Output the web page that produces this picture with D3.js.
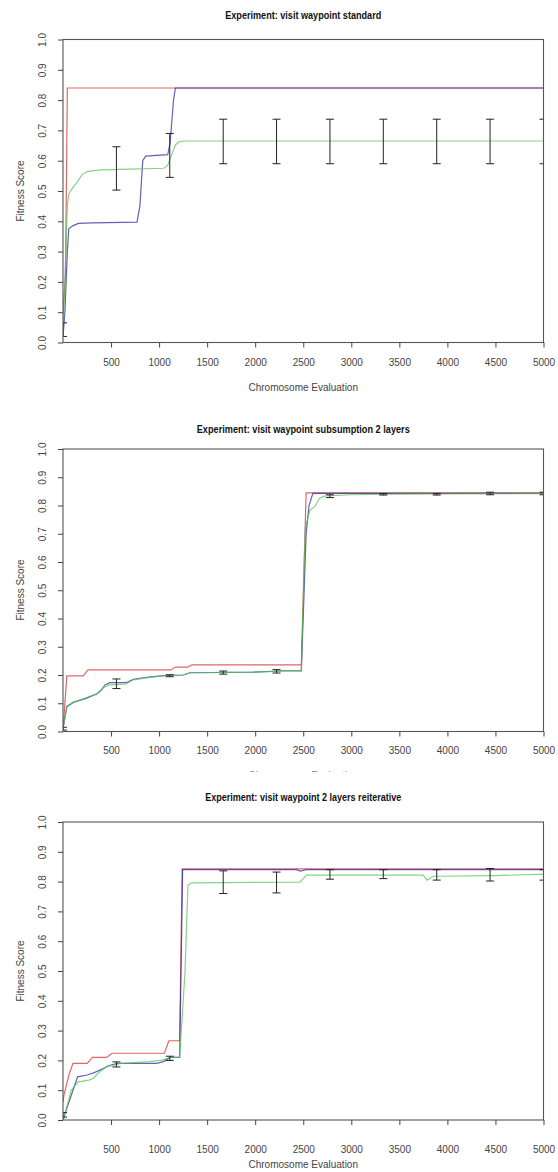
<!DOCTYPE html>
<html><head><meta charset="utf-8">
<script src="https://cdn.jsdelivr.net/npm/d3@7"></script>
<style>
body{margin:0;background:#fff}
svg{display:block}
text{font-family:"Liberation Sans",Arial,sans-serif}
</style>
</head><body>
<svg id="chart" width="558" height="1172"></svg>
<script>
// ---------- data ----------
const xTickValues = [500,1000,1500,2000,2500,3000,3500,4000,4500,5000];
const yTickValues = [0,0.1,0.2,0.3,0.4,0.5,0.6,0.7,0.8,0.9,1.0];
const titles = [
  "Experiment: visit waypoint standard",
  "Experiment: visit waypoint subsumption 2 layers",
  "Experiment: visit waypoint 2 layers reiterative"
];
const xAxisTitle = "Chromosome Evaluation";
const yAxisTitle = "Fitness Score";
const errorX = [0,556,1111,1667,2222,2778,3333,3889,4444,5000];

// panel 1 : standard
const p1Red = [[0,0.10],[25,0.22],[35,0.5],[45,0.84],[5000,0.84]];
const p1Blue = [[0,0.02],[20,0.10],[45,0.30],[60,0.375],[100,0.385],[160,0.393],[300,0.395],[770,0.397],[800,0.45],[830,0.60],[860,0.615],[1090,0.62],[1115,0.66],[1150,0.80],[1170,0.84],[5000,0.84]];
const p1Green = [[0,0.03],[20,0.20],[45,0.45],[60,0.49],[100,0.51],[150,0.53],[200,0.555],[260,0.565],[400,0.57],[700,0.572],[1050,0.575],[1090,0.585],[1130,0.62],[1170,0.652],[1210,0.663],[1270,0.665],[5000,0.665]];
const p1ErrLo = [0.02,0.503,0.545,0.59,0.59,0.59,0.59,0.59,0.59,0.59];
const p1ErrHi = [0.065,0.646,0.69,0.737,0.737,0.737,0.737,0.737,0.737,0.737];

// panel 2 : subsumption 2 layers
const p2Red = [[0,0.005],[40,0.197],[210,0.197],[260,0.218],[1120,0.218],[1170,0.228],[1300,0.228],[1340,0.236],[2480,0.236],[2530,0.845],[5000,0.845]];
const p2Blue = [[0,0.01],[40,0.088],[107,0.103],[246,0.118],[350,0.133],[400,0.147],[437,0.165],[489,0.173],[662,0.173],[731,0.185],[870,0.192],[1043,0.198],[1251,0.2],[1321,0.208],[1980,0.21],[2290,0.215],[2480,0.215],[2530,0.70],[2560,0.80],[2600,0.843],[5000,0.843]];
const p2Green = [[0,0.01],[40,0.09],[107,0.103],[246,0.12],[350,0.133],[420,0.155],[480,0.165],[650,0.168],[731,0.183],[870,0.19],[1043,0.197],[1251,0.2],[1321,0.208],[1980,0.21],[2290,0.214],[2480,0.214],[2520,0.72],[2570,0.784],[2620,0.796],[2670,0.826],[2730,0.834],[3000,0.838],[3500,0.84],[5000,0.842]];
const p2ErrLo = [0.005,0.152,0.194,0.203,0.207,0.828,0.837,0.837,0.838,0.838];
const p2ErrHi = [0.015,0.186,0.201,0.214,0.219,0.838,0.842,0.842,0.847,0.847];

// panel 3 : 2 layers reiterative
const p3Red = [[0,0.06],[10,0.084],[67,0.157],[104,0.19],[252,0.19],[307,0.21],[455,0.21],[510,0.224],[1055,0.224],[1102,0.266],[1214,0.266],[1240,0.843],[5000,0.843]];
const p3Blue = [[0,0.005],[10,0.011],[152,0.145],[252,0.151],[326,0.159],[418,0.173],[473,0.182],[566,0.19],[973,0.19],[1047,0.196],[1114,0.21],[1214,0.21],[1245,0.84],[2430,0.84],[2470,0.835],[2530,0.84],[5000,0.84]];
const p3Green = [[0,0],[10,0.005],[85,0.1],[159,0.128],[270,0.134],[314,0.14],[381,0.162],[455,0.179],[603,0.19],[900,0.196],[1030,0.201],[1121,0.21],[1214,0.21],[1270,0.5],[1300,0.788],[1340,0.796],[2465,0.798],[2534,0.822],[3747,0.822],[3789,0.805],[3851,0.818],[4500,0.82],[5000,0.825]];
const p3ErrLo = [0.01,0.178,0.2,0.76,0.762,0.808,0.81,0.805,0.802,0.805];
const p3ErrHi = [0.025,0.195,0.214,0.836,0.832,0.84,0.84,0.84,0.844,0.84];

// ---------- layout / style ----------
const colors = {red:"#dd5f5f", blue:"#25259a", green:"#55c455", err:"#222"};
const layouts = [
  {top:39.5, bottom:342.5, titleY:15, titleLen:156, tickY:362, xTitleY:387, yTitleY:191, clipTitle:null},
  {top:449, bottom:731.5, titleY:429, titleLen:213, tickY:750, xTitleY:775, yTitleY:590, clipTitle:[760,772]},
  {top:822, bottom:1120, titleY:797, titleLen:196, tickY:1149, xTitleY:1164, yTitleY:971, clipTitle:null}
];
const left = 63, right = 543.5;

const panels = [
  {title:titles[0], red:p1Red, blue:p1Blue, green:p1Green, lo:p1ErrLo, hi:p1ErrHi},
  {title:titles[1], red:p2Red, blue:p2Blue, green:p2Green, lo:p2ErrLo, hi:p2ErrHi},
  {title:titles[2], red:p3Red, blue:p3Blue, green:p3Green, lo:p3ErrLo, hi:p3ErrHi}
];

const svg = d3.select("#chart");
const defs = svg.append("defs");

panels.forEach((p, i) => {
  const L = layouts[i];
  const x = d3.scaleLinear().domain([0,5000]).range([left,right]);
  const y = d3.scaleLinear().domain([0,1]).range([L.bottom,L.top]);
  const g = svg.append("g");

  const clipId = "clip"+i;
  defs.append("clipPath").attr("id",clipId).append("rect")
    .attr("x",left).attr("y",L.top).attr("width",right-left).attr("height",L.bottom-L.top);

  g.append("text").attr("x",(left+right)/2).attr("y",L.titleY)
    .attr("text-anchor","middle").attr("dominant-baseline","central")
    .attr("font-size",10).attr("font-weight","bold").attr("fill","#111")
    .attr("textLength",L.titleLen).attr("lengthAdjust","spacingAndGlyphs")
    .text(p.title);

  const line = d3.line().x(d=>x(d[0])).y(d=>y(d[1]));
  const lg = g.append("g").attr("clip-path",`url(#${clipId})`).attr("fill","none");
  lg.append("path").datum(p.red).attr("d",line).attr("stroke",colors.red).attr("stroke-width",1.2).attr("stroke-opacity",0.95);
  lg.append("path").datum(p.blue).attr("d",line).attr("stroke",colors.blue).attr("stroke-width",1.2).attr("stroke-opacity",0.72);
  lg.append("path").datum(p.green).attr("d",line).attr("stroke",colors.green).attr("stroke-width",1.2).attr("stroke-opacity",0.72);

  const eg = g.append("g").attr("clip-path",`url(#${clipId})`).attr("stroke",colors.err).attr("stroke-width",1).attr("fill","none");
  errorX.forEach((ex, k) => {
    const cx = x(ex), y1 = y(p.lo[k]), y2 = y(p.hi[k]);
    eg.append("line").attr("x1",cx).attr("x2",cx).attr("y1",y1).attr("y2",y2);
    eg.append("line").attr("x1",cx-4).attr("x2",cx+4).attr("y1",y1).attr("y2",y1);
    eg.append("line").attr("x1",cx-4).attr("x2",cx+4).attr("y1",y2).attr("y2",y2);
  });

  g.append("rect").attr("x",left).attr("y",L.top).attr("width",right-left).attr("height",L.bottom-L.top)
    .attr("fill","none").attr("stroke","#555").attr("stroke-width",1.1);

  const xa = g.append("g").attr("transform",`translate(0,${L.bottom})`)
    .call(d3.axisBottom(x).tickValues(xTickValues).tickSize(5).tickSizeOuter(0).tickFormat(d3.format("d")));
  xa.select(".domain").remove();
  xa.selectAll(".tick line").attr("stroke","#444");
  xa.selectAll(".tick text").attr("y",L.tickY-L.bottom).attr("dy",null)
    .attr("dominant-baseline","central").attr("font-size",10).attr("fill","#444")
    .attr("font-family","Liberation Sans, Arial, sans-serif");

  const ya = g.append("g").attr("transform",`translate(${left},0)`)
    .call(d3.axisLeft(y).tickValues(yTickValues).tickSize(5).tickSizeOuter(0).tickFormat(d3.format(".1f")));
  ya.select(".domain").remove();
  ya.selectAll(".tick line").attr("stroke","#444");
  ya.selectAll(".tick text").attr("x",null).attr("dy",null)
    .attr("transform","translate(-21,0) rotate(-90)")
    .attr("text-anchor","middle").attr("dominant-baseline","central")
    .attr("font-size",10).attr("fill","#444")
    .attr("font-family","Liberation Sans, Arial, sans-serif");

  const xt = g.append("text").attr("x",(left+right)/2).attr("y",L.xTitleY)
    .attr("text-anchor","middle").attr("dominant-baseline","central")
    .attr("font-size",10).attr("fill","#444").text(xAxisTitle);
  if (L.clipTitle) {
    const cid = "tclip"+i;
    defs.append("clipPath").attr("id",cid).append("rect")
      .attr("x",0).attr("y",L.clipTitle[0]).attr("width",558).attr("height",L.clipTitle[1]-L.clipTitle[0]);
    xt.attr("clip-path",`url(#${cid})`).attr("fill","#888");
  }
  g.append("text").attr("transform",`translate(20,${L.yTitleY}) rotate(-90)`)
    .attr("text-anchor","middle").attr("dominant-baseline","central")
    .attr("font-size",10).attr("fill","#444").text(yAxisTitle);
});
</script>
</body></html>
